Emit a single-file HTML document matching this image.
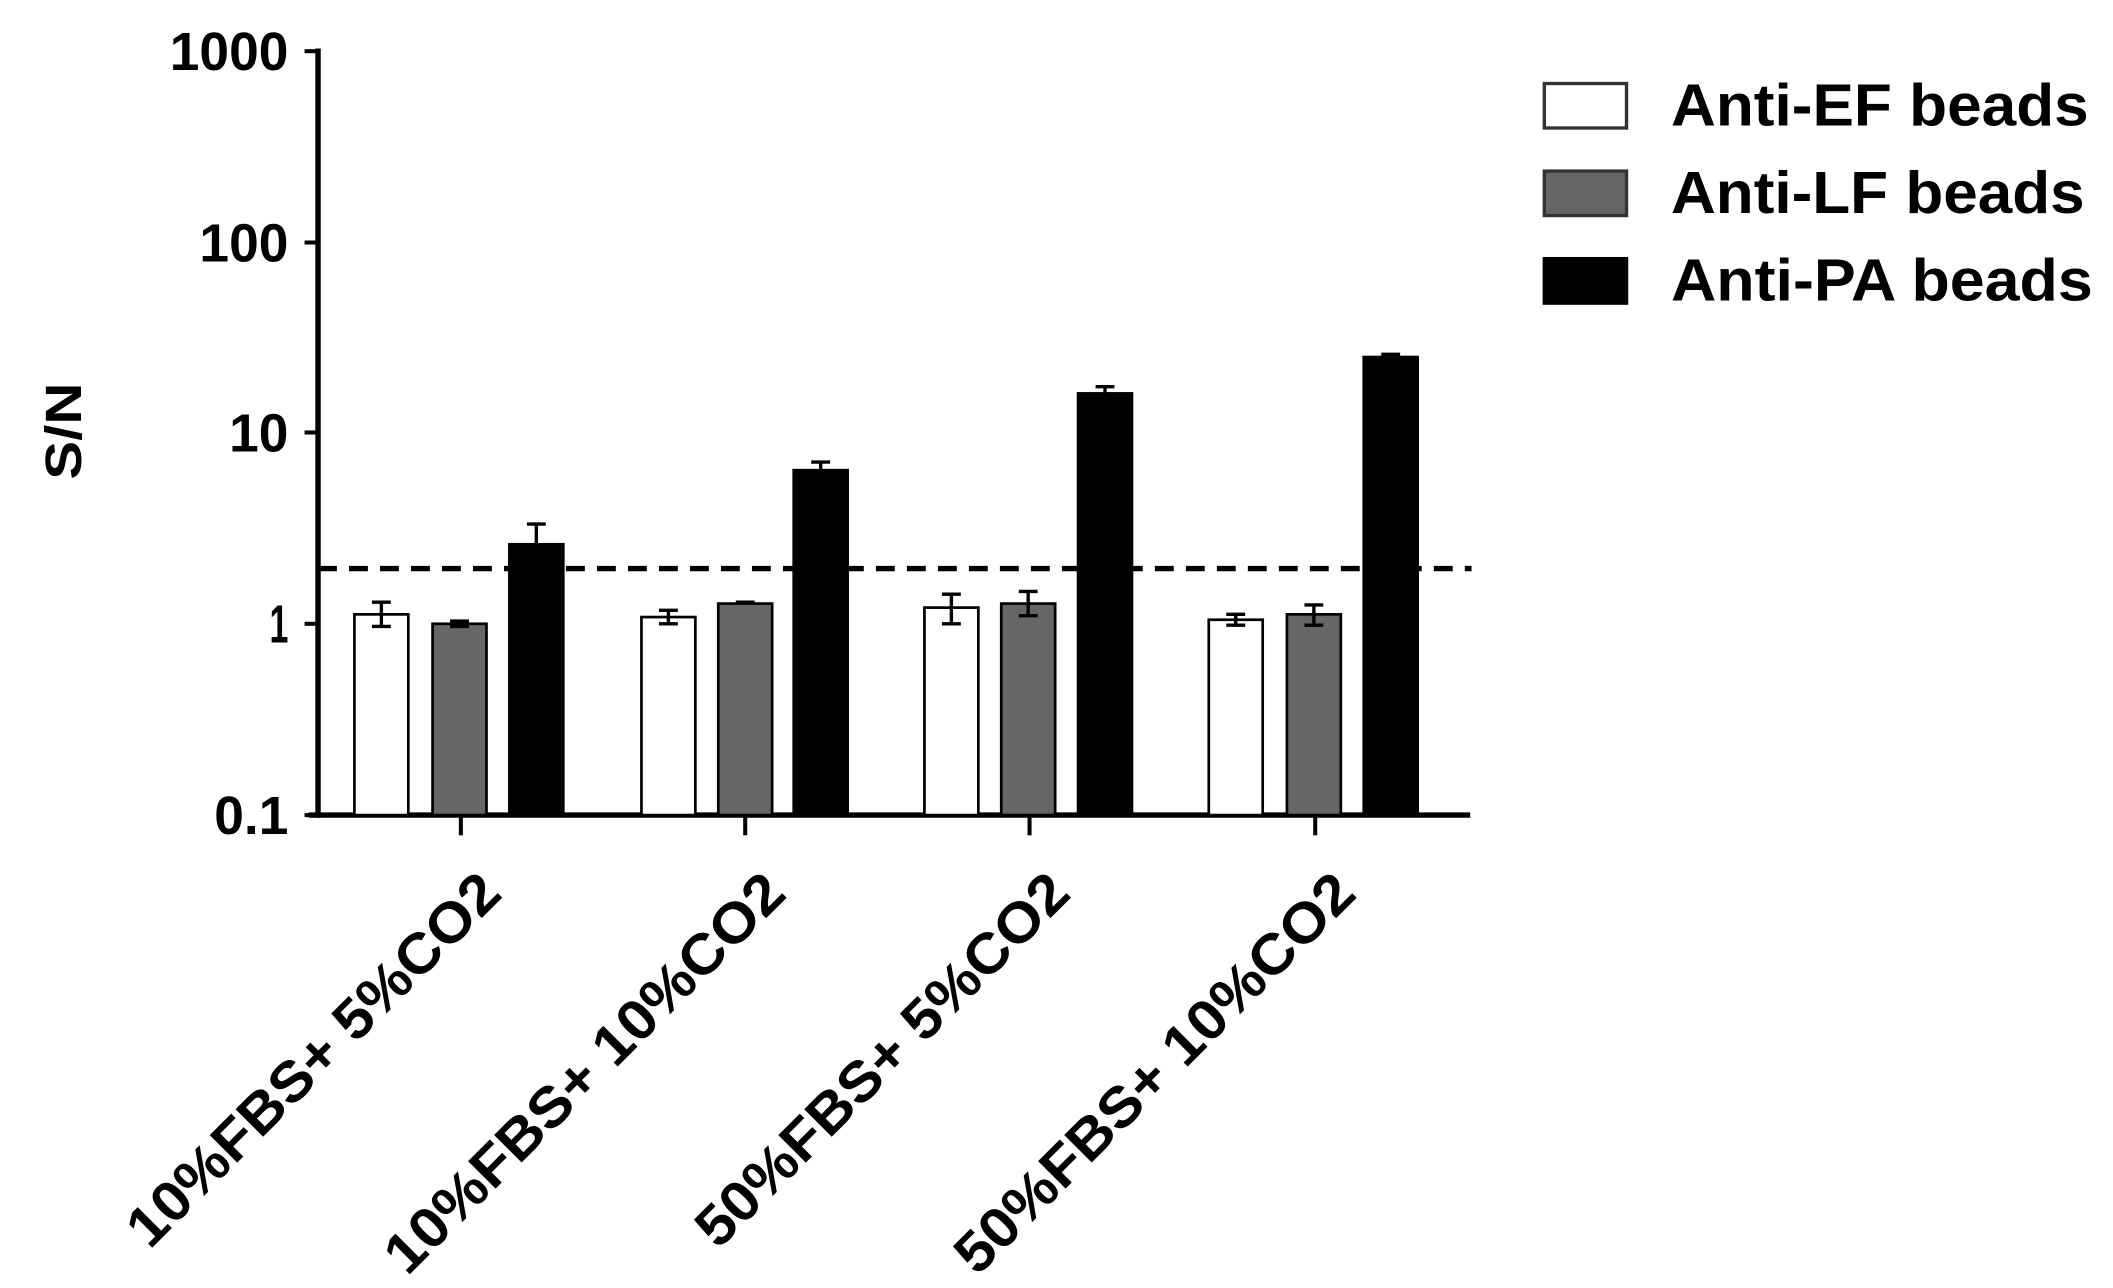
<!DOCTYPE html>
<html><head><meta charset="utf-8"><style>html,body{margin:0;padding:0;background:#fff}svg{display:block}</style></head>
<body>
<svg width="2113" height="1288" viewBox="0 0 1568 956" preserveAspectRatio="none" xmlns="http://www.w3.org/2000/svg" font-family="Liberation Sans, Arial, sans-serif" font-weight="bold">
<rect width="1568" height="956" fill="#fff"/>
<line x1="236" y1="36" x2="236" y2="607" stroke="#000" stroke-width="4"/>
<line x1="229" y1="605" x2="1091" y2="605" stroke="#000" stroke-width="4"/>
<g stroke="#000" stroke-width="3">
<line x1="226" y1="38" x2="236" y2="38"/><line x1="226" y1="180" x2="236" y2="180"/>
<line x1="226" y1="321" x2="236" y2="321"/><line x1="226" y1="463" x2="236" y2="463"/>
<line x1="226" y1="605" x2="236" y2="605"/>
<line x1="342" y1="605" x2="342" y2="620"/><line x1="553" y1="605" x2="553" y2="620"/>
<line x1="764" y1="605" x2="764" y2="620"/><line x1="976" y1="605" x2="976" y2="620"/>
</g>
<g font-size="40" text-anchor="end">
<text x="214" y="52" textLength="88" lengthAdjust="spacingAndGlyphs">1000</text>
<text x="214" y="194" textLength="66" lengthAdjust="spacingAndGlyphs">100</text>
<text x="214" y="335" textLength="44" lengthAdjust="spacingAndGlyphs">10</text>
<text x="214" y="477" textLength="14" lengthAdjust="spacingAndGlyphs">1</text>
<text x="214" y="619" textLength="55" lengthAdjust="spacingAndGlyphs">0.1</text>
</g>
<text transform="translate(60,320) rotate(-90)" font-size="38" text-anchor="middle" textLength="72" lengthAdjust="spacingAndGlyphs">S/N</text>
<g stroke="#000" stroke-width="2">
<rect x="263" y="456" width="40" height="149" fill="#fff"/>
<rect x="321" y="463" width="40" height="142" fill="#666"/>
<rect x="378" y="404" width="40" height="201" fill="#000"/>
<rect x="476" y="458" width="40" height="147" fill="#fff"/>
<rect x="533" y="448" width="40" height="157" fill="#666"/>
<rect x="589" y="349" width="40" height="256" fill="#000"/>
<rect x="686" y="451" width="40" height="154" fill="#fff"/>
<rect x="743" y="448" width="40" height="157" fill="#666"/>
<rect x="800" y="292" width="40" height="313" fill="#000"/>
<rect x="897" y="460" width="40" height="145" fill="#fff"/>
<rect x="955" y="456" width="40" height="149" fill="#666"/>
<rect x="1012" y="265" width="40" height="340" fill="#000"/>
</g>
<g stroke="#000" stroke-width="2.5" fill="none">
<path d="M283 447V465M276 447H290M276 465H290"/>
<path d="M341 461V465M334 461H348M334 465H348"/>
<path d="M398 389V404M391 389H405"/>
<path d="M496 453V463M489 453H503M489 463H503"/>
<path d="M553 447V449M546 447H560"/>
<path d="M609 343V349M602 343H616"/>
<path d="M706 441V463M699 441H713M699 463H713"/>
<path d="M763 439V457M756 439H770M756 457H770"/>
<path d="M820 287V292M813 287H827"/>
<path d="M917 456V464M910 456H924M910 464H924"/>
<path d="M975 449V464M968 449H982M968 464H982"/>
<path d="M1032 263V265M1025 263H1039"/>
</g>
<line x1="236" y1="422" x2="1092" y2="422" stroke="#000" stroke-width="4" stroke-dasharray="14,9"/>
<g font-size="42" text-anchor="end">
<text transform="translate(374,665) rotate(-45)" textLength="372" lengthAdjust="spacingAndGlyphs">10%FBS+ 5%CO2</text>
<text transform="translate(585,665) rotate(-45)" textLength="400" lengthAdjust="spacingAndGlyphs">10%FBS+ 10%CO2</text>
<text transform="translate(796,665) rotate(-45)" textLength="372" lengthAdjust="spacingAndGlyphs">50%FBS+ 5%CO2</text>
<text transform="translate(1008,665) rotate(-45)" textLength="400" lengthAdjust="spacingAndGlyphs">50%FBS+ 10%CO2</text>
</g>
<rect x="1146" y="62" width="61" height="33" fill="#fff" stroke="#333" stroke-width="2.5"/>
<rect x="1146" y="127" width="61" height="33" fill="#666" stroke="#333" stroke-width="2.5"/>
<rect x="1146" y="192" width="61" height="33" fill="#000" stroke="#000" stroke-width="2.5"/>
<g font-size="44">
<text x="1240" y="93" textLength="310" lengthAdjust="spacingAndGlyphs">Anti-EF beads</text>
<text x="1240" y="158" textLength="307" lengthAdjust="spacingAndGlyphs">Anti-LF beads</text>
<text x="1240" y="223" textLength="313" lengthAdjust="spacingAndGlyphs">Anti-PA beads</text>
</g>
</svg>
</body></html>
